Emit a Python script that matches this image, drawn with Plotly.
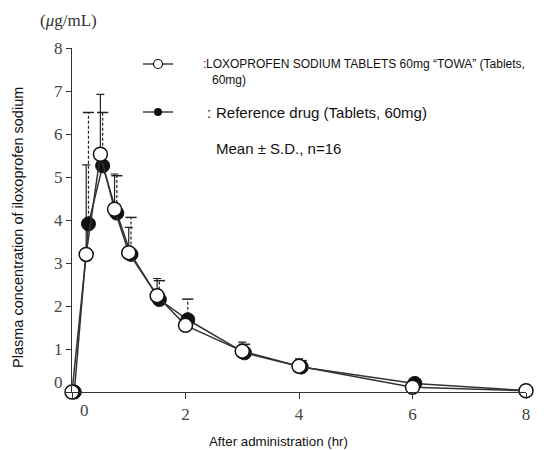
import plotly.graph_objects as go

# ---- data ----
hours = [0, 0.25, 0.5, 0.75, 1, 1.5, 2, 3, 4, 6, 8]
test_mean = [0, 3.20, 5.53, 4.25, 3.24, 2.24, 1.55, 0.95, 0.60, 0.11, 0.03]
test_sd = [0, 2.08, 1.39, 0.82, 0.59, 0.40, 0.15, 0.21, 0.17, 0.08, 0.02]
ref_mean = [0, 3.91, 5.26, 4.16, 3.20, 2.15, 1.68, 0.91, 0.58, 0.20, 0.03]
ref_sd = [0, 2.59, 1.24, 0.87, 0.86, 0.44, 0.48, 0.20, 0.15, 0.10, 0.02]
x_ticks = [0, 2, 4, 6, 8]
y_ticks = [0, 1, 2, 3, 4, 5, 6, 7, 8]

test_name = "LOXOPROFEN SODIUM TABLETS 60mg \u201cTOWA\u201d (Tablets,"
ref_name = "Reference drug (Tablets, 60mg)"
stat_note = "Mean \u00b1 S.D., n=16"

DODGE = 0.04  # small horizontal dodge of the reference series, as in the original
ref_x = [h + DODGE for h in hours]

SERIF = "Liberation Serif"
SANS = "Liberation Sans"

# page layout (page pixels); the browser body adds an 8px offset
BODY = 8
PL, PR, PT, PB = 72, 526, 48, 392  # plot area edges on the page


def px2paper(x, y):
    return (x - PL) / (PR - PL), (PB - y) / (PB - PT)


fig = go.Figure()

# dashed error bars (reference drug), upper only
stem_x, stem_y = [], []
for x, m, s in zip(ref_x, ref_mean, ref_sd):
    if s > 0:
        stem_x += [x, x, None]
        stem_y += [m, m + s, None]
fig.add_trace(go.Scatter(x=stem_x, y=stem_y, mode="lines",
                         line=dict(color="#222", width=1.2, dash="3px,2px"),
                         hoverinfo="skip", showlegend=False, cliponaxis=False))
fig.add_trace(go.Scatter(x=ref_x, y=[m + s for m, s in zip(ref_mean, ref_sd)],
                         mode="markers",
                         marker=dict(symbol="line-ew", size=8, color="#222",
                                     line=dict(color="#222", width=1.5)),
                         hoverinfo="skip", showlegend=False, cliponaxis=False))

# solid error bars (test drug), upper only
fig.add_trace(go.Scatter(x=hours, y=test_mean, mode="markers",
                         marker=dict(size=1, color="rgba(0,0,0,0)"),
                         error_y=dict(type="data", symmetric=False, array=test_sd,
                                      arrayminus=[0] * len(test_sd),
                                      color="#222", thickness=1.2, width=4),
                         hoverinfo="skip", showlegend=False, cliponaxis=False))

# reference drug: filled circles
fig.add_trace(go.Scatter(x=ref_x, y=ref_mean, mode="lines+markers",
                         line=dict(color="#333", width=1.5),
                         marker=dict(symbol="circle", size=14, color="#111",
                                     line=dict(color="#111", width=1)),
                         showlegend=False, cliponaxis=False))
# test drug: open circles
fig.add_trace(go.Scatter(x=hours, y=test_mean, mode="lines+markers",
                         line=dict(color="#333", width=1.5),
                         marker=dict(symbol="circle", size=14, color="white",
                                     line=dict(color="#111", width=1.5)),
                         showlegend=False, cliponaxis=False))

# legend samples drawn on a pixel-coordinate overlay axis
fig.add_trace(go.Scatter(x=[143, 173], y=[64, 64], mode="lines",
                         line=dict(color="#222", width=1.3), xaxis="x2", yaxis="y2",
                         showlegend=False, hoverinfo="skip"))
fig.add_trace(go.Scatter(x=[158], y=[64], mode="markers", xaxis="x2", yaxis="y2",
                         marker=dict(size=9, color="white", line=dict(color="#111", width=1.2)),
                         showlegend=False, hoverinfo="skip"))
fig.add_trace(go.Scatter(x=[143, 173], y=[112, 112], mode="lines",
                         line=dict(color="#222", width=1.3), xaxis="x2", yaxis="y2",
                         showlegend=False, hoverinfo="skip"))
fig.add_trace(go.Scatter(x=[158], y=[112], mode="markers", xaxis="x2", yaxis="y2",
                         marker=dict(size=8, color="#111"),
                         showlegend=False, hoverinfo="skip"))

ann = []


def txt(x, y, t, size, font=SANS, xanchor="left", angle=0, color="#111"):
    px, py = px2paper(x, y)
    ann.append(dict(x=px, y=py, xref="paper", yref="paper", text=t, showarrow=False,
                    xanchor=xanchor, yanchor="middle", textangle=angle,
                    font=dict(family=font, size=size, color=color)))


txt(201, 64, ":", 12)
txt(204, 64, test_name, 12)
txt(210, 80, "60mg)", 12)
txt(205, 112, ":", 15)
txt(214, 112, ref_name, 15)
txt(214, 148, stat_note, 15)
txt(68, 20, "(<i>\u03bc</i>g/mL)", 17, font=SERIF, xanchor="center", color="#333")
txt(18, 228, "Plasma concentration of iloxoprofen sodium", 14.5, xanchor="center", angle=-90)
txt(278, 441, "After administration (hr)", 13.3, xanchor="center")
# shifted zero labels, as in the original
txt(84, 410, "0", 17, font=SERIF, xanchor="center", color="#444")
txt(58, 382, "0", 17, font=SERIF, xanchor="center", color="#444")

W, H = 544 - BODY, 450 - BODY
fig.update_layout(
    width=W, height=H,
    margin=dict(l=PL - BODY, r=W - (PR - BODY), t=PT - BODY, b=H - (PB - BODY)),
    paper_bgcolor="white", plot_bgcolor="white",
    showlegend=False,
    annotations=ann,
    xaxis=dict(range=[0, 8], tickvals=x_ticks,
               ticktext=["" if v == 0 else str(v) for v in x_ticks],
               ticks="outside", ticklen=6, tickcolor="#333", tickwidth=1,
               showline=True, linecolor="#333", linewidth=1.2,
               showgrid=False, zeroline=False,
               tickfont=dict(family=SERIF, size=17, color="#444")),
    yaxis=dict(range=[0, 8], tickvals=y_ticks,
               ticktext=["" if v == 0 else str(v) for v in y_ticks],
               ticks="outside", ticklen=5, tickcolor="#333", tickwidth=1,
               showline=True, linecolor="#333", linewidth=1.2,
               showgrid=False, zeroline=False,
               tickfont=dict(family=SERIF, size=17, color="#444")),
    xaxis2=dict(overlaying="x", range=[PL, PR], visible=False, fixedrange=True),
    yaxis2=dict(overlaying="y", range=[PB, PT], visible=False, fixedrange=True),
)

fig.write_html("out.html")
